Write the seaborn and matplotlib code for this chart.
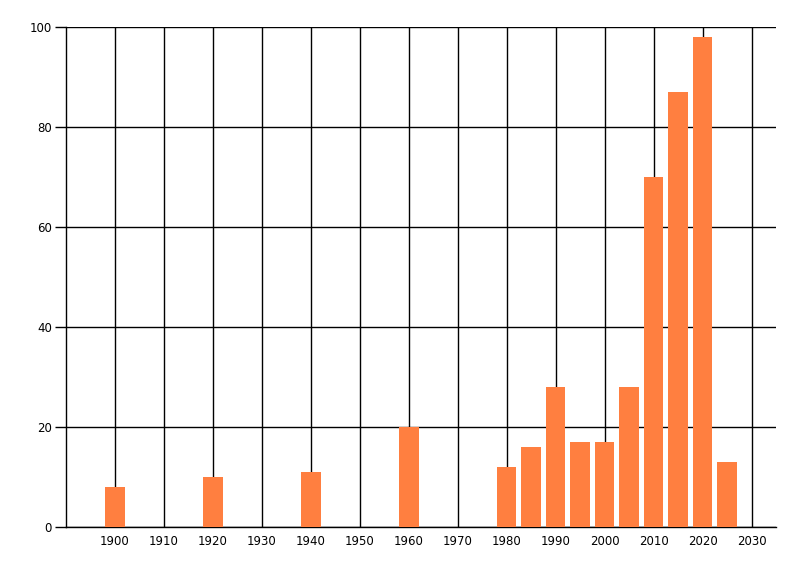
import matplotlib
matplotlib.use("Agg")
import matplotlib.pyplot as plt
import seaborn as sns
import pandas as pd

years = [1900, 1920, 1940, 1960, 1980, 1985, 1990, 1995, 2000, 2005, 2010, 2015, 2020, 2025]
values = [8, 10, 11, 20, 12, 16, 28, 17, 17, 28, 70, 87, 98, 13]
x_ticks = list(range(1900, 2031, 10))
y_ticks = [0, 20, 40, 60, 80, 100]

sns.set_style("white")
plt.rcParams['font.family'] = ['DejaVu Sans']

df = pd.DataFrame({"year": years, "value": values})

fig = plt.figure(figsize=(8, 5.76), dpi=100)
ax = fig.add_axes([66/800, 1-527/576, (776-66)/800, 500/576])

sns.barplot(data=df, x="year", y="value", native_scale=True, width=0.8,
            color="#FF7F40", saturation=1, ax=ax, zorder=3, linewidth=0,
            edgecolor="none")

ax.set_xlim(1890, 2035)
ax.set_ylim(0, 100)
ax.set_xticks(x_ticks)
ax.set_xticklabels([str(t) for t in x_ticks])
ax.set_yticks(y_ticks)
ax.set_yticklabels([str(t) for t in y_ticks])
ax.grid(True, color="black", linewidth=1.0, zorder=0)
ax.set_axisbelow(True)
for s in ["top", "right"]:
    ax.spines[s].set_visible(False)
for s in ["left", "bottom"]:
    ax.spines[s].set_color("black")
    ax.spines[s].set_linewidth(1.0)
ax.tick_params(axis="y", length=8, width=1, color="black", labelsize=8.5,
               labelcolor="black", pad=2, left=True)
ax.tick_params(axis="x", length=0, labelsize=8.5, labelcolor="black", pad=6, bottom=True)
ax.set_xlabel("")
ax.set_ylabel("")

fig.savefig("out.png", dpi=100)
